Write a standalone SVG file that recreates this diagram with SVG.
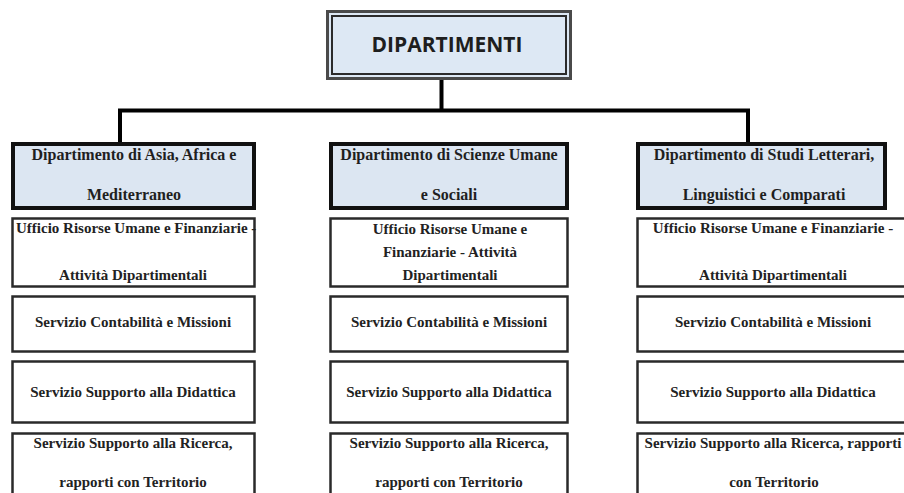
<svg xmlns="http://www.w3.org/2000/svg" width="904" height="493" viewBox="0 0 904 493">
  <style>
    .root-fill { fill: #dde8f4; }
    .root-outer { fill: none; stroke: #4a4a4a; stroke-width: 3; }
    .root-inner { fill: none; stroke: #2b2b2b; stroke-width: 2; }
    .root-text { font-family: "Open Sans", "Liberation Sans", sans-serif; font-weight: bold; font-size: 21px; fill: #1e1e1e; text-anchor: middle; }
    .dept { fill: #dce6f2; stroke: #111; stroke-width: 4; }
    .office { fill: #ffffff; stroke: #2a2a2a; stroke-width: 2.5; }
    .dt { font-family: "Liberation Serif", "Times New Roman", serif; font-weight: bold; font-size: 16px; fill: #1f1f1f; text-anchor: middle; }
    .ot { font-family: "Liberation Serif", "Times New Roman", serif; font-weight: bold; font-size: 15px; fill: #222; text-anchor: middle; }
    .link { fill: none; stroke: #000; stroke-width: 4; }
  </style>

  <rect width="904" height="493" fill="#ffffff"/>

  <!-- connectors -->
  <g id="connectors">
    <path class="link" d="M441.5 78 V110.5"/>
    <path class="link" d="M120 142 V110.5 H748 V142"/>
  </g>

  <!-- top node -->
  <g id="dipartimenti">
    <rect class="root-fill" x="328" y="12" width="242" height="66"/>
    <rect class="root-outer" x="327.5" y="11.5" width="243" height="67"/>
    <rect class="root-inner" x="332" y="16" width="234" height="58"/>
    <text class="root-text" x="447" y="52">DIPARTIMENTI</text>
  </g>

  <!-- column 1 -->
  <g id="dept-asia">
    <rect class="dept" x="13" y="144" width="241" height="64"/>
    <text class="dt" x="134" y="160">Dipartimento di Asia, Africa e</text>
    <text class="dt" x="134" y="200">Mediterraneo</text>
  </g>
  <g id="asia-ufficio">
    <rect class="office" x="12.5" y="218.5" width="242" height="68"/>
    <text class="ot" x="16" y="233" style="text-anchor:start">Ufficio Risorse Umane e Finanziarie -</text>
    <text class="ot" x="133" y="280">Attività Dipartimentali</text>
  </g>
  <g id="asia-contabilita">
    <rect class="office" x="12.5" y="296.5" width="242" height="55"/>
    <text class="ot" x="133" y="327">Servizio Contabilità e Missioni</text>
  </g>
  <g id="asia-didattica">
    <rect class="office" x="12.5" y="361.5" width="242" height="61"/>
    <text class="ot" x="133" y="397">Servizio Supporto alla Didattica</text>
  </g>
  <g id="asia-ricerca">
    <rect class="office" x="12.5" y="433.5" width="242" height="70"/>
    <text class="ot" x="133" y="448">Servizio Supporto alla Ricerca,</text>
    <text class="ot" x="133" y="487">rapporti con Territorio</text>
  </g>

  <!-- column 2 -->
  <g id="dept-scienze">
    <rect class="dept" x="331" y="144" width="236" height="64"/>
    <text class="dt" x="449" y="160">Dipartimento di Scienze Umane</text>
    <text class="dt" x="449" y="200">e Sociali</text>
  </g>
  <g id="scienze-ufficio">
    <rect class="office" x="330.5" y="218.5" width="237" height="68"/>
    <text class="ot" x="450" y="234">Ufficio Risorse Umane e</text>
    <text class="ot" x="450" y="257">Finanziarie - Attività</text>
    <text class="ot" x="450" y="280">Dipartimentali</text>
  </g>
  <g id="scienze-contabilita">
    <rect class="office" x="330.5" y="296.5" width="237" height="55"/>
    <text class="ot" x="449" y="327">Servizio Contabilità e Missioni</text>
  </g>
  <g id="scienze-didattica">
    <rect class="office" x="330.5" y="361.5" width="237" height="61"/>
    <text class="ot" x="449" y="397">Servizio Supporto alla Didattica</text>
  </g>
  <g id="scienze-ricerca">
    <rect class="office" x="330.5" y="433.5" width="237" height="70"/>
    <text class="ot" x="449" y="448">Servizio Supporto alla Ricerca,</text>
    <text class="ot" x="449" y="487">rapporti con Territorio</text>
  </g>

  <!-- column 3 -->
  <g id="dept-studi">
    <rect class="dept" x="638" y="144" width="247" height="64"/>
    <text class="dt" x="764" y="160">Dipartimento di Studi Letterari,</text>
    <text class="dt" x="764" y="200">Linguistici e Comparati</text>
  </g>
  <g id="studi-ufficio">
    <rect class="office" x="637.5" y="218.5" width="270" height="68"/>
    <text class="ot" x="773" y="233">Ufficio Risorse Umane e Finanziarie -</text>
    <text class="ot" x="773" y="280">Attività Dipartimentali</text>
  </g>
  <g id="studi-contabilita">
    <rect class="office" x="637.5" y="296.5" width="270" height="55"/>
    <text class="ot" x="773" y="327">Servizio Contabilità e Missioni</text>
  </g>
  <g id="studi-didattica">
    <rect class="office" x="637.5" y="361.5" width="270" height="61"/>
    <text class="ot" x="773" y="397">Servizio Supporto alla Didattica</text>
  </g>
  <g id="studi-ricerca">
    <rect class="office" x="637.5" y="433.5" width="270" height="70"/>
    <text class="ot" x="773" y="448">Servizio Supporto alla Ricerca, rapporti</text>
    <text class="ot" x="774" y="487">con Territorio</text>
  </g>
</svg>
